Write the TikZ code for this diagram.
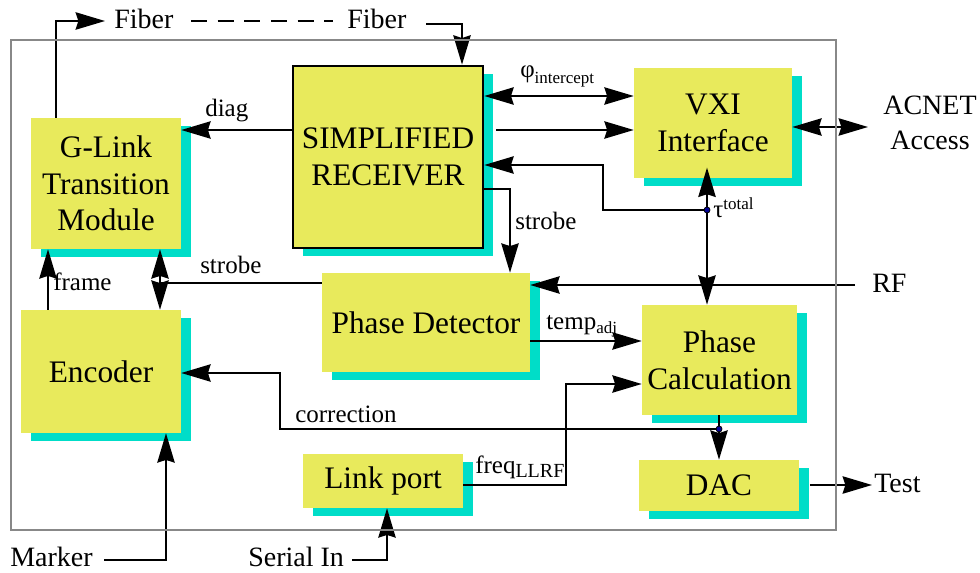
\documentclass[tikz,border=0pt]{standalone}
\usepackage{fontspec}
\setmainfont{Liberation Serif}
\usetikzlibrary{arrows.meta,shadows}
\definecolor{boxyel}{RGB}{232,234,92}
\definecolor{shcyan}{RGB}{0,221,200}
\definecolor{framegray}{RGB}{136,136,136}
\definecolor{dotblue}{RGB}{0,0,150}
\newcommand\boxfont{\fontsize{23.5}{27.5}\selectfont}
\newcommand\lblfont{\fontsize{18.75}{22}\selectfont}
\newcommand\extfont{\fontsize{21}{26}\selectfont}
\newcommand\subfont{\fontsize{12.75}{14}\selectfont}
\newcommand\subfontb{\fontsize{15}{16}\selectfont}
\begin{document}
\begin{tikzpicture}[x=0.75pt,y=-0.75pt,
  blk/.style={fill=boxyel, general shadow={fill=shcyan, shadow xshift=7.5pt, shadow yshift=-6pt},
    align=center, font=\boxfont, inner sep=0pt},
  tipb/.tip={Stealth[length=22pt,width=13pt,inset=2pt]},
  arr/.style={-tipb, line width=1.5pt},
  darr/.style={tipb-tipb, line width=1.5pt},
  ln/.style={line width=1.5pt},
  lbl/.style={font=\lblfont, inner sep=0pt},
  ext/.style={font=\extfont, inner sep=0pt},
  jdot/.style={circle, fill=dotblue, draw=black, line width=0.6pt, minimum size=4.5pt, inner sep=0pt}]
\useasboundingbox (0,0) rectangle (980,573);

% boxes
\node[blk, minimum width=112.5pt, minimum height=98.25pt] (glink) at (106,183.5) {G-Link\\Transition\\Module};
\node[blk, draw=black, line width=2pt, minimum width=142.5pt, minimum height=136.5pt] (sr) at (388,157) {SIMPLIFIED\\RECEIVER};
\node[blk, minimum width=118.5pt, minimum height=82.5pt] (vxi) at (713,123) {VXI\\Interface};
\node[blk, minimum width=156pt, minimum height=74.25pt] (pd) at (426,322.5) {Phase Detector};
\node[blk, minimum width=120pt, minimum height=92.25pt] (enc) at (101,371.5) {Encoder};
\node[blk, minimum width=120pt, minimum height=40.5pt] (lp) at (383,481) {Link port};
\node[blk, minimum width=116.25pt, minimum height=82.5pt] (pc) at (719.5,360) {Phase\\Calculation};
\node[blk, minimum width=120pt, minimum height=38.25pt] (dac) at (719,485.5) {DAC};

% external texts
\node[ext, anchor=base west] (fiber1) at (114,29) {Fiber};
\node[ext, anchor=base west] (fiber2) at (347,29) {Fiber};
\node[ext, anchor=base west] (rf) at (872,292) {RF};
\node[ext, align=center] (acnet) at (930,123) {ACNET\\Access};
\node[ext, anchor=base west] (test) at (874,492) {Test};
\node[ext, anchor=base west] (marker) at (10,566) {Marker};
\node[ext, anchor=base west] (serial) at (248,566) {Serial In};

% labels
\node[lbl, anchor=base west] (ldiag) at (205,117) {diag};
\node[lbl, anchor=base west] (lphi) at (520,78) {φ\raisebox{-4.5pt}{\subfont intercept}};
\node[lbl, anchor=base west] (ltau) at (713,218) {τ\raisebox{6pt}{\subfont total}};
\node[lbl, anchor=base west] (lstr1) at (515,230) {strobe};
\node[lbl, anchor=base west] (lstr2) at (200,273) {strobe};
\node[lbl, anchor=base west] (lframe) at (53,291) {frame};
\node[lbl, anchor=base west] (ltemp) at (546,329) {temp\raisebox{-3pt}{\subfont adj}};
\node[lbl, anchor=base west] (lcorr) at (295,422) {correction};
\node[lbl, anchor=base west] (lfreq) at (475,473) {freq\raisebox{-3.5pt}{\subfontb LLRF}};

% helper coordinates
\coordinate (g1) at (56,21);
\coordinate (fa) at (105,21);
\coordinate (fb) at (191,21);
\coordinate (fc) at (333,21);
\coordinate (fd) at (426,24);
\coordinate (f2) at (462,24);
\coordinate (yd) at (0,130);
\coordinate (yphi) at (0,96);
\coordinate (ya) at (0,130);
\coordinate (jt) at (707,210);
\coordinate (t1) at (603,210);
\coordinate (t2) at (603,165);
\coordinate (s1) at (510,189);
\coordinate (rfc) at (855,285);
\coordinate (ac) at (868,127);
\coordinate (s2) at (160,283);
\coordinate (fr) at (48,0);
\coordinate (ytemp) at (0,341);
\coordinate (fq1) at (566,485);
\coordinate (fq2) at (566,384);
\coordinate (jc) at (719,429);
\coordinate (c1) at (280,429);
\coordinate (c2) at (280,373);
\coordinate (tst) at (872,485);
\coordinate (mk1) at (104,560);
\coordinate (mk2) at (166,560);
\coordinate (se1) at (352,560);
\coordinate (se2) at (387,560);

% connectors
\draw[arr] (g1 |- glink.north) -- (g1) -- (fa);
\draw[ln, dash pattern=on 12pt off 8pt] (fb) -- (fc);
\draw[arr] (fd) -- (f2) -- (f2 |- sr.north);
\draw[arr] (yd -| sr.west) -- (yd -| glink.east);
\draw[darr] (yphi -| sr.east) -- (yphi -| vxi.west);
\draw[arr, shorten <=9pt] (ya -| sr.east) -- (ya -| vxi.west);
\draw[arr, shorten >=-8pt] (jt) -- (jt |- vxi.south);
\draw[arr] (jt) -- (jt |- pc.north);
\draw[arr] (jt) -- (t1) -- (t2) -- (t2 -| sr.east);
\draw[arr] (s1 -| sr.east) -- (s1) -- (s1 |- pd.north);
\draw[arr] (rfc) -- (rfc -| pd.east);
\draw[darr] (ac -| vxi.east) -- (ac);
\draw[ln] (s2 -| pd.west) -- (s2);
\draw[arr] (s2) -- (s2 |- glink.south);
\draw[arr] (s2) -- (s2 |- enc.north);
\draw[arr] (fr |- enc.north) -- (fr |- glink.south);
\draw[arr] (ytemp -| pd.east) -- (ytemp -| pc.west);
\draw[arr] (fq1 -| lp.east) -- (fq1) -- (fq2) -- (fq2 -| pc.west);
\draw[ln] (jc |- pc.south) -- (jc);
\draw[arr] (jc) -- (jc |- dac.north);
\draw[arr] (jc) -- (c1) -- (c2) -- (c2 -| enc.east);
\draw[arr, shorten <=8pt] (tst -| dac.east) -- (tst);
\draw[arr] (mk1) -- (mk2) -- (mk2 |- enc.south);
\draw[arr] (se1) -- (se2) -- (se2 |- lp.south);

% outer frame (drawn over the crossing lines)
\draw[framegray, line width=1.5pt] (11,40) rectangle (836,530);

% junction dots
\node[jdot] (dt) at (jt) {};
\node[jdot] (dc) at (jc) {};
\end{tikzpicture}
\end{document}
